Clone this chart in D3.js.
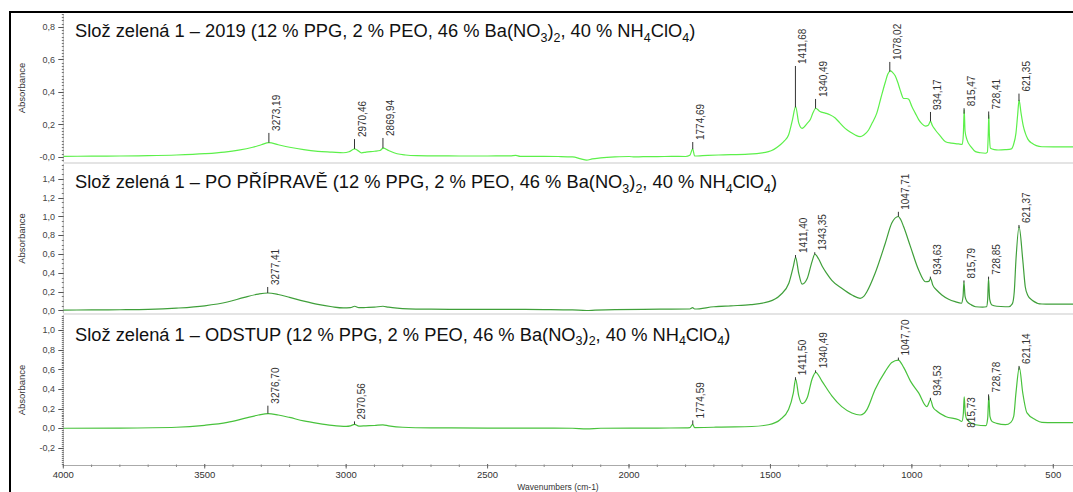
<!DOCTYPE html>
<html>
<head>
<meta charset="utf-8">
<script src="https://cdn.jsdelivr.net/npm/d3@7/dist/d3.min.js"></script>
<style>
  html, body { margin: 0; padding: 0; background: #fff; }
  svg { display: block; font-family: "Liberation Sans", Arial, sans-serif; }
</style>
</head>
<body>
<svg id="chart" width="1073" height="492"></svg>
<script>
// ---- Spectra: [wavenumber cm-1, absorbance] ----
const spectrum2019 = [
  [4000,0.004],[3900,0.005],[3800,0.006],[3700,0.008],[3600,0.012],[3500,0.02],[3430,0.03],[3380,0.042],
  [3330,0.06],[3300,0.075],[3273,0.088],[3240,0.075],[3200,0.06],[3150,0.045],[3100,0.035],[3050,0.03],
  [3010,0.026],[2990,0.032],[2970,0.05],[2955,0.035],[2945,0.025],[2930,0.03],[2900,0.035],[2880,0.04],
  [2869,0.055],[2850,0.04],[2820,0.02],[2790,0.012],[2750,0.008],[2700,0.007],[2600,0.006],[2500,0.006],
  [2420,0.007],[2400,0.01],[2385,0.004],[2300,0.004],[2250,0.003],[2200,0.0],[2170,-0.012],[2150,-0.02],
  [2130,-0.012],[2100,-0.006],[2050,0.0],[2000,0.003],[1980,0.0],[1950,0.002],[1900,0.002],[1850,0.004],
  [1800,0.003],[1785,0.01],[1775,0.05],[1768,0.006],[1740,0.008],[1684,0.012],[1578,0.017],[1507,0.033],
  [1466,0.074],[1450,0.1],[1436,0.135],[1422,0.23],[1411,0.31],[1400,0.21],[1388,0.176],[1370,0.207],
  [1359,0.23],[1350,0.27],[1340,0.30],[1325,0.28],[1306,0.27],[1290,0.26],[1271,0.24],[1255,0.21],
  [1236,0.176],[1215,0.15],[1200,0.135],[1183,0.125],[1170,0.135],[1153,0.166],[1140,0.21],[1124,0.27],
  [1110,0.36],[1094,0.46],[1085,0.51],[1076,0.53],[1068,0.52],[1059,0.50],[1050,0.46],[1041,0.41],
  [1029,0.36],[1018,0.36],[1011,0.355],[1000,0.31],[988,0.27],[976,0.23],[965,0.205],[952,0.19],
  [942,0.195],[934,0.22],[928,0.195],[917,0.166],[900,0.13],[881,0.094],[860,0.085],[835,0.08],
  [822,0.078],[818,0.14],[815,0.29],[812,0.16],[805,0.105],[790,0.06],[775,0.033],[758,0.026],
  [740,0.023],[733,0.03],[730,0.14],[728,0.26],[726,0.14],[722,0.053],[708,0.045],[695,0.043],
  [670,0.045],[648,0.05],[640,0.08],[632,0.147],[626,0.26],[621,0.35],[614,0.27],[606,0.19],
  [599,0.147],[590,0.11],[575,0.084],[560,0.07],[540,0.063],[500,0.062],[450,0.062],[400,0.062]
];

const spectrumPrep = [
  [4000,0.005],[3900,0.006],[3800,0.008],[3700,0.012],[3600,0.025],[3500,0.05],[3420,0.09],[3360,0.14],
  [3310,0.175],[3277,0.186],[3240,0.17],[3200,0.14],[3150,0.1],[3100,0.065],[3050,0.04],[3010,0.028],
  [2985,0.03],[2970,0.045],[2955,0.03],[2930,0.032],[2900,0.035],[2870,0.045],[2850,0.035],[2820,0.025],
  [2780,0.018],[2700,0.014],[2600,0.012],[2500,0.012],[2400,0.012],[2300,0.01],[2200,0.006],[2150,0.0],
  [2120,0.004],[2050,0.01],[1950,0.012],[1850,0.015],[1785,0.016],[1775,0.03],[1768,0.016],[1700,0.04],
  [1640,0.05],[1570,0.062],[1506,0.094],[1465,0.165],[1435,0.29],[1419,0.47],[1411,0.566],[1400,0.396],
  [1388,0.28],[1370,0.34],[1353,0.52],[1343,0.60],[1330,0.55],[1317,0.47],[1300,0.39],[1283,0.32],
  [1248,0.236],[1212,0.165],[1183,0.13],[1170,0.15],[1159,0.2],[1130,0.396],[1094,0.715],[1071,0.93],
  [1048,1.0],[1040,0.97],[1029,0.89],[1005,0.68],[976,0.43],[952,0.306],[940,0.31],[934,0.34],
  [926,0.27],[910,0.21],[894,0.165],[870,0.12],[847,0.094],[825,0.077],[819,0.15],[816,0.306],
  [812,0.15],[805,0.094],[790,0.06],[775,0.04],[750,0.035],[736,0.04],[732,0.12],[729,0.34],
  [725,0.12],[717,0.058],[700,0.045],[670,0.04],[658,0.04],[645,0.07],[638,0.2],[632,0.54],
  [621,0.89],[608,0.54],[599,0.25],[590,0.16],[575,0.11],[540,0.069],[500,0.068],[400,0.068]
];

const spectrumOdstup = [
  [4000,0.0],[3800,0.002],[3600,0.01],[3500,0.03],[3420,0.06],[3360,0.1],[3310,0.135],[3276,0.15],
  [3240,0.135],[3200,0.11],[3150,0.075],[3100,0.05],[3050,0.03],[3000,0.02],[2985,0.025],[2970,0.04],
  [2955,0.022],[2930,0.025],[2900,0.028],[2870,0.035],[2850,0.025],[2800,0.01],[2700,0.004],[2500,0.002],
  [2300,0.002],[2200,0.0],[2150,-0.006],[2100,0.0],[1900,0.002],[1800,0.004],[1785,0.006],[1775,0.04],
  [1768,0.006],[1700,0.01],[1685,0.012],[1566,0.018],[1507,0.036],[1466,0.087],[1436,0.19],[1419,0.36],
  [1411,0.50],[1400,0.33],[1388,0.25],[1370,0.31],[1353,0.50],[1340,0.57],[1318,0.48],[1283,0.33],
  [1248,0.22],[1212,0.156],[1183,0.135],[1170,0.15],[1159,0.19],[1130,0.395],[1094,0.58],[1071,0.67],
  [1048,0.695],[1029,0.62],[1005,0.48],[976,0.36],[947,0.22],[934,0.29],[926,0.22],[910,0.17],
  [881,0.12],[835,0.087],[823,0.07],[818,0.15],[815,0.32],[811,0.15],[805,0.087],[775,0.036],
  [738,0.026],[732,0.1],[728,0.33],[724,0.12],[717,0.07],[700,0.05],[669,0.036],[650,0.06],
  [640,0.12],[632,0.36],[620,0.62],[608,0.36],[593,0.156],[563,0.087],[540,0.06],[500,0.058],[400,0.058]
];

// ---- Peak annotations: [wavenumber, absorbance where the label starts] ----
const peaks2019 = [
  [3273.19,0.148],[2970.46,0.11],[2869.94,0.117],[1774.69,0.092],[1411.68,0.56],[1340.49,0.357],
  [1078.02,0.585],[934.17,0.277],[815.47,0.30],[728.41,0.28],[621.35,0.39]
];
const peaksPrep = [
  [3277.41,0.25],[1411.40,0.59],[1343.35,0.62],[1047.71,1.05],[934.63,0.36],[815.79,0.32],
  [728.85,0.36],[621.37,0.91]
];
const peaksOdstup = [
  [3276.70,0.23],[2970.56,0.07],[1774.59,0.08],[1411.50,0.52],[1340.49,0.59],[1047.70,0.72],
  [934.53,0.31],[815.73,-0.015],[728.78,0.345],[621.14,0.635]
];

// ---- Titles and ticks ----
const titlePrefixes = ["Slož zelená 1 – 2019", "Slož zelená 1 – PO PŘÍPRAVĚ", "Slož zelená 1 – ODSTUP"];
const compositionParts = [
  ["(12 % PPG, 2 % PEO, 46 % Ba(NO", false], ["3", true], [")", false], ["2", true],
  [", 40 % NH", false], ["4", true], ["ClO", false], ["4", true], [")", false]
];
const yTicks2019 = [0, 0.2, 0.4, 0.6, 0.8];
const yTickLabels2019 = ["-0,0", "0,2", "0,4", "0,6", "0,8"];
const yTicksPrep = [0, 0.2, 0.4, 0.6, 0.8, 1.0, 1.2, 1.4];
const yTickLabelsPrep = ["0,0", "0,2", "0,4", "0,6", "0,8", "1,0", "1,2", "1,4"];
const yTicksOdstup = [-0.2, 0, 0.2, 0.4, 0.6, 0.8, 1.0];
const yTickLabelsOdstup = ["-0,2", "0,0", "0,2", "0,4", "0,6", "0,8", "1,0"];
const xTicks = [4000, 3500, 3000, 2500, 2000, 1500, 1000, 500];
const xTickLabels = ["4000", "3500", "3000", "2500", "2000", "1500", "1000", "500"];
const yAxisTitle = "Absorbance";
const xAxisTitle = "Wavenumbers (cm-1)";

// ---- Layout ----
const W = 1073, H = 492;
const plotLeft = 63.3, plotRight = 1073;
const svg = d3.select("#chart");

const x = d3.scaleLinear().domain([4000, 500]).range([plotLeft, 1053.3]);

const panels = [
  { spectrum: spectrum2019, peaks: peaks2019, prefix: titlePrefixes[0], color: "#5cf04a",
    top: 14, bottom: 162, domain: [-0.031, 0.880], ticks: yTicks2019, tickLabels: yTickLabels2019,
    minor: 0.02, titleY: 37 },
  { spectrum: spectrumPrep, peaks: peaksPrep, prefix: titlePrefixes[1], color: "#3f9f3a",
    top: 164, bottom: 313, domain: [-0.0266, 1.5585], ticks: yTicksPrep, tickLabels: yTickLabelsPrep,
    minor: 0.05, titleY: 188 },
  { spectrum: spectrumOdstup, peaks: peaksOdstup, prefix: titlePrefixes[2], color: "#48c23c",
    top: 315, bottom: 465, domain: [-0.3744, 1.1538], ticks: yTicksOdstup, tickLabels: yTickLabelsOdstup,
    minor: 0.02, titleY: 340.5 }
];

const fmtWn = d => d3.format(".2f")(d).replace(".", ",");

function valueAt(spec, w) {
  for (let i = 0; i < spec.length - 1; i++) {
    const [w0, a0] = spec[i], [w1, a1] = spec[i + 1];
    if (w <= w0 && w >= w1) return a0 + (a1 - a0) * (w0 - w) / (w0 - w1);
  }
  return spec[spec.length - 1][1];
}

// Outer frame
svg.append("path")
  .attr("d", `M10,${H} V12 H${W}`)
  .attr("fill", "none").attr("stroke", "#000").attr("stroke-width", 2);

panels.forEach((p, i) => {
  const y = d3.scaleLinear().domain(p.domain).range([p.bottom, p.top]);
  const g = svg.append("g");

  // panel separators
  if (i < panels.length - 1) {
    g.append("rect").attr("x", plotLeft).attr("y", p.bottom).attr("width", plotRight - plotLeft)
      .attr("height", 2).attr("fill", "#e4e4e4");
  }

  const clipId = "clip" + i;
  svg.append("clipPath").attr("id", clipId).append("rect")
    .attr("x", plotLeft).attr("y", p.top).attr("width", plotRight - plotLeft).attr("height", p.bottom - p.top);

  // y axis line with minor ticks
  g.append("line").attr("x1", plotLeft).attr("x2", plotLeft).attr("y1", p.top).attr("y2", p.bottom)
    .attr("stroke", "#b0b0b0").attr("stroke-width", 1);
  const minorTicks = d3.range(Math.ceil(p.domain[0] / p.minor), Math.floor(p.domain[1] / p.minor) + 1)
    .map(k => k * p.minor);
  g.selectAll(".minor").data(minorTicks).join("line")
    .attr("x1", plotLeft - 1.5).attr("x2", plotLeft + 0.5)
    .attr("y1", d => Math.round(y(d)) + 0.5).attr("y2", d => Math.round(y(d)) + 0.5)
    .attr("stroke", "#777").attr("stroke-width", 1);
  g.selectAll(".major").data(p.ticks).join("line")
    .attr("x1", plotLeft - 5).attr("x2", plotLeft)
    .attr("y1", d => Math.round(y(d)) + 0.5).attr("y2", d => Math.round(y(d)) + 0.5)
    .attr("stroke", "#555").attr("stroke-width", 1);
  g.selectAll(".tl").data(p.ticks).join("text")
    .attr("x", 55).attr("y", d => y(d)).attr("dy", "0.35em")
    .attr("text-anchor", "end").attr("font-size", 9).attr("fill", "#444")
    .text((d, k) => p.tickLabels[k]);

  // y axis title
  g.append("text")
    .attr("transform", `translate(25,${(p.top + p.bottom) / 2}) rotate(-90)`)
    .attr("text-anchor", "middle").attr("font-size", 9.5).attr("fill", "#333")
    .text(yAxisTitle);

  // spectrum
  const line = d3.line().x(d => x(d[0])).y(d => y(d[1])).curve(d3.curveMonotoneX);
  g.append("path").datum(p.spectrum)
    .attr("clip-path", `url(#${clipId})`)
    .attr("d", line).attr("fill", "none").attr("stroke", p.color).attr("stroke-width", 1.2);

  // peak leaders and labels
  p.peaks.forEach(([w, tip]) => {
    const v = valueAt(p.spectrum, w);
    const px = x(w);
    if (tip > v) {
      g.append("line").attr("x1", px).attr("x2", px).attr("y1", y(v)).attr("y2", y(tip))
        .attr("stroke", "#333").attr("stroke-width", 1);
    }
    g.append("text")
      .attr("transform", `translate(${px + 11},${y(tip) - 2}) rotate(-90)`)
      .attr("font-size", 10).attr("fill", "#333")
      .text(fmtWn(w));
  });

  // panel title with subscripts
  const t = g.append("text").attr("x", 75).attr("y", p.titleY)
    .attr("font-size", 18.3).attr("fill", "#111");
  t.append("tspan").text(p.prefix + " ");
  let shifted = false;
  compositionParts.forEach(([s, sub]) => {
    const ts = t.append("tspan").text(s);
    if (sub && !shifted) { ts.attr("dy", 4.5).attr("font-size", 12.5); shifted = true; }
    else if (sub) { ts.attr("font-size", 12.5); }
    else if (shifted) { ts.attr("dy", -4.5); shifted = false; }
  });
});

// x axis
const xg = svg.append("g");
xg.append("line").attr("x1", plotLeft).attr("x2", plotRight).attr("y1", 465.5).attr("y2", 465.5)
  .attr("stroke", "#aaa").attr("stroke-width", 1);
const xMinor = d3.range(400, 4001, 100);
xg.selectAll(".xm").data(xMinor).join("line")
  .attr("x1", d => x(d)).attr("x2", d => x(d)).attr("y1", 464.5).attr("y2", 467)
  .attr("stroke", "#888").attr("stroke-width", 1);
xg.selectAll(".xM").data(xTicks).join("line")
  .attr("x1", d => x(d)).attr("x2", d => x(d)).attr("y1", 464).attr("y2", 468.5)
  .attr("stroke", "#666").attr("stroke-width", 1);
xg.selectAll(".xl").data(xTicks).join("text")
  .attr("x", d => x(d)).attr("y", 478)
  .attr("text-anchor", "middle").attr("font-size", 9.5).attr("fill", "#333")
  .text((d, k) => xTickLabels[k]);
xg.append("text").attr("x", 558).attr("y", 489.5)
  .attr("text-anchor", "middle").attr("font-size", 8.5).attr("fill", "#333")
  .text(xAxisTitle);
</script>
</body>
</html>
